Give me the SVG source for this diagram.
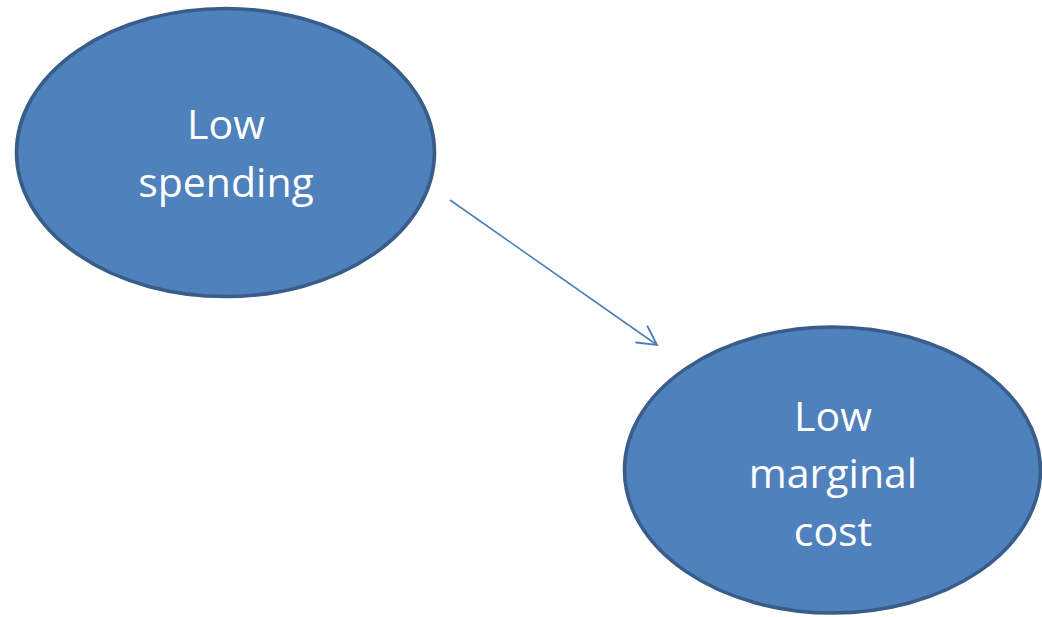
<svg xmlns="http://www.w3.org/2000/svg" width="1042" height="617" viewBox="0 0 1042 617">
  <style>
    .node ellipse { fill: #4f81bd; stroke: #385d8a; stroke-width: 3.6; }
    .node text { font-family: "Open Sans", "Liberation Sans", sans-serif; font-size: 41px; fill: #ffffff; text-anchor: middle; }
    .edge { stroke: #4a7ebb; stroke-width: 1.6; fill: none; }
  </style>
  <defs>
    <marker id="open-arrow" markerUnits="userSpaceOnUse" markerWidth="30" markerHeight="30" viewBox="-22 -15 26 30" refX="0" refY="0" orient="auto">
      <path d="M-18.5,-9.9 L0,0 L-18.5,9.9" fill="none" stroke="#4a7ebb" stroke-width="1.8" stroke-linecap="round" stroke-linejoin="miter"/>
    </marker>
  </defs>
  <rect width="1042" height="617" fill="#ffffff"/>

  <g id="connectors">
    <line class="edge" x1="450" y1="200" x2="657" y2="345" marker-end="url(#open-arrow)"/>
  </g>

  <g id="low-spending" class="node">
    <ellipse cx="225.5" cy="152.5" rx="209" ry="144"/>
    <text x="226" y="139">Low</text>
    <text x="226" y="197">spending</text>
  </g>

  <g id="low-marginal-cost" class="node">
    <ellipse cx="832.5" cy="470" rx="208" ry="143"/>
    <text x="833" y="431">Low</text>
    <text x="833" y="488">marginal</text>
    <text x="833" y="546">cost</text>
  </g>
</svg>
